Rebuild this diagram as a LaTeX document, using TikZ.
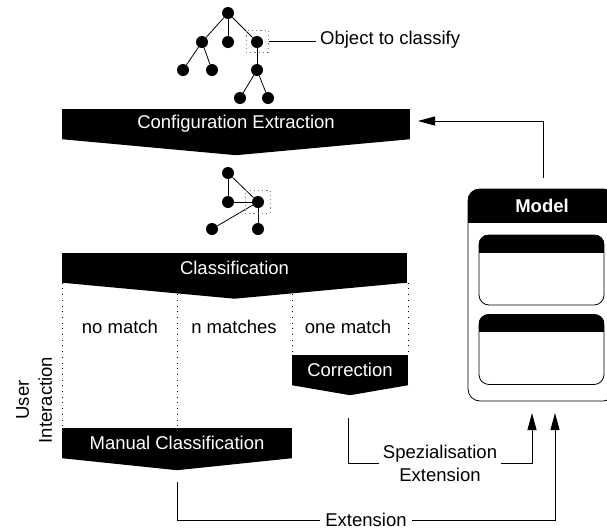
\documentclass[tikz,border=0pt]{standalone}
\usepackage{fontspec}
\setmainfont{Liberation Sans}
\usetikzlibrary{calc,arrows.meta,positioning}

\tikzset{
  vert/.style={circle,fill=black,inner sep=0pt,minimum size=12pt},
  selbox/.style={draw=gray,line width=1pt,dash pattern=on 1.2pt off 3pt,inner sep=0pt},
  banner/.style={fill=black,text=white,inner sep=0pt,minimum height=30pt},
  lane/.style={dash pattern=on 1pt off 4.7pt},
  conn/.style={line width=0.8pt},
  arr/.style={conn,-{Triangle[length=17pt,width=9pt]}},
  lbl/.style={fill=white,inner sep=4pt,align=center},
  part/.style={draw,line width=0.8pt,rounded corners=10pt,minimum width=125pt,minimum height=70pt,inner sep=0pt},
}
\newcommand{\BannerTip}[2]{\fill (#1.south west) -- ($(#1.south)+(0,#2)$) -- (#1.south east) -- cycle;}

\begin{document}
\begin{tikzpicture}[x=1pt,y=-1pt,font=\fontsize{18.5}{23}\selectfont]
  \useasboundingbox (0,0) rectangle (607,531);

  % object to classify
  \node[vert] (t0) at (228,13) {};
  \node[vert] (t1) at (202,42) {};
  \node[vert] (t2) at (228,42) {};
  \node[vert] (t3) at (257,42) {};
  \node[vert] (t4) at (183,70) {};
  \node[vert] (t5) at (212,70) {};
  \node[vert] (t6) at (257,70) {};
  \node[vert] (t7) at (240,98) {};
  \node[vert] (t8) at (268,98) {};
  \foreach \a/\b in {t0/t1,t0/t2,t0/t3,t1/t4,t1/t5,t3/t6,t6/t7,t6/t8}
    \draw[conn] (\a) -- (\b);
  \node[selbox,minimum width=22pt,minimum height=22pt] (sel) at (257,41) {};
  \node[anchor=west,inner sep=4pt] (obj) at (316,40) {Object to classify};
  \draw[conn] (sel.east) -- (sel.east -| obj.west);

  % configuration extraction
  \node[banner,minimum width=348pt] (cfg) at (236,124) {Configuration Extraction};
  \BannerTip{cfg}{16}

  % configuration
  \node[vert] (s0) at (228,173) {};
  \node[vert] (s1) at (228,202) {};
  \node[vert] (s2) at (258,202) {};
  \node[vert] (s3) at (212,229) {};
  \node[vert] (s4) at (258,229) {};
  \foreach \a/\b in {s0/s1,s0/s2,s1/s2,s2/s3,s2/s4}
    \draw[conn] (\a) -- (\b);
  \node[selbox,minimum width=25pt,minimum height=23pt] (sel2) at (257.5,201.5) {};

  % classification
  \node[banner,minimum width=345pt] (cls) at (234.5,267.5) {Classification};
  \BannerTip{cls}{16}
  \node[banner,minimum width=116pt] (cor) at (350,370) {Correction};
  \BannerTip{cor}{10}
  \node[banner,minimum width=230pt] (man) at (177,443) {Manual Classification};
  \BannerTip{man}{12}

  \draw[lane] (cls.south west) -- (man.north west);
  \draw[lane] (man.north |- cls.south) -- (man.north);
  \draw[lane] (cor.north west |- cls.south) -- (cor.north west);
  \draw[lane] (cor.north east |- cls.south) -- (cor.north east);

  \node (nomatch) at (120,327) {no match};
  \node (nmatch) at (234,327) {n matches};
  \node (onematch) at (348,327) {one match};
  \node[rotate=90,align=center] (user) at (34,400) {User\\Interaction};

  % model
  \node[draw,line width=0.8pt,rounded corners=12pt,minimum width=147pt,minimum height=212pt,inner sep=0pt] (mdl) at (541.5,295) {};
  \begin{scope}
    \clip[rounded corners=12pt] (mdl.north west) rectangle (mdl.south east);
    \fill (mdl.north west) rectangle ($(mdl.north east)+(0,34)$);
  \end{scope}
  \node[text=white,font=\bfseries\fontsize{18.5}{23}\selectfont] (mdltitle) at (542,206) {Model};
  \foreach \n/\yc in {part1/270,part2/349.5}{
    \node[part] (\n) at (541.5,\yc) {};
    \begin{scope}
      \clip[rounded corners=10pt] (\n.north west) rectangle (\n.south east);
      \fill (\n.north west) rectangle ($(\n.north east)+(0,18)$);
    \end{scope}
  }

  % feedback
  \coordinate (mdlout) at (543,178);
  \coordinate (cfgin) at (418,121);
  \draw[arr] (mdlout) |- (cfgin);

  \coordinate (corout) at (348,418);
  \coordinate (spzc) at (532,463);
  \coordinate (mdlin1) at (532,413);
  \draw[arr] (corout) |- (spzc) -- (mdlin1);
  \node[lbl] (spz) at (440,463) {Spezialisation\\Extension};

  \coordinate (manout) at (177,482);
  \coordinate (extc) at (555,520);
  \coordinate (mdlin2) at (555,413);
  \draw[arr] (manout) |- node[lbl,pos=0.75,inner sep=5pt] (ext) {Extension} (extc) -- (mdlin2);
\end{tikzpicture}
\end{document}
